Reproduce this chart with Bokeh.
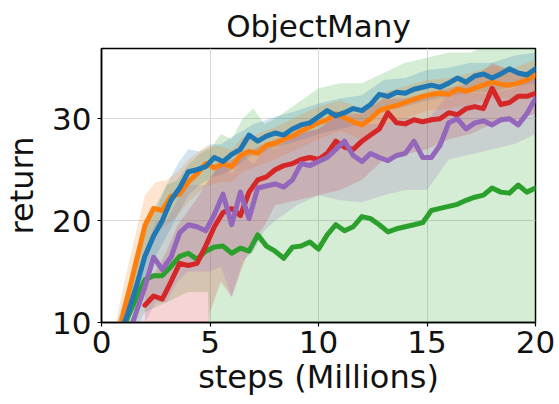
from bokeh.plotting import figure
from bokeh.models import Range1d, FixedTicker
from bokeh.embed import file_html
from bokeh.resources import INLINE

nan = float("nan")

# ---- data (steps in millions) ----
steps = [0.8, 1.2, 1.6, 2.0, 2.4, 2.8, 3.2, 3.6, 4.0, 4.4, 4.8, 5.2, 5.6, 6.0, 6.4, 6.8,
         7.2, 7.6, 8.0, 8.4, 8.8, 9.2, 9.6, 10.0, 10.4, 10.8, 11.2, 11.6, 12.0, 12.4, 12.8,
         13.2, 13.6, 14.0, 14.4, 14.8, 15.2, 15.6, 16.0, 16.4, 16.8, 17.2, 17.6, 18.0, 18.4,
         18.8, 19.2, 19.6, 20.0]

blue_ret = [8.5, 10.8, 13.5, 16.5, 18.5, 20.0, 22.0, 23.2, 24.8, 25.0, 25.3, 26.2, 25.8, 26.5,
            27.0, 28.4, 27.8, 28.3, 28.6, 28.4, 29.0, 29.4, 29.6, 30.2, 30.8, 30.3, 30.6, 31.0,
            30.8, 31.4, 32.4, 32.2, 32.6, 32.5, 32.9, 33.1, 33.3, 33.1, 33.5, 34.0, 33.6, 34.2,
            34.4, 34.0, 34.4, 34.9, 34.5, 34.3, 34.9]

orange_ret = [9.0, 12.5, 16.0, 19.5, 21.2, 21.0, 22.4, 22.6, 23.8, 24.6, 25.6, 25.2, 25.6, 25.3,
              26.4, 26.8, 26.6, 27.4, 27.6, 28.0, 28.3, 28.8, 29.2, 29.6, 29.9, 30.5, 30.1, 29.7,
              29.4, 30.0, 30.8, 31.1, 31.3, 31.6, 31.9, 32.2, 32.4, 32.5, 32.4, 32.9, 32.7, 33.0,
              33.3, 33.6, 33.4, 33.3, 33.5, 33.8, 34.3]

red_ret = [nan, nan, nan, 11.7, 12.6, 12.3, 14.0, 15.8, 15.6, 15.8, 17.5, 19.4, 20.8, 21.2,
           20.5, 22.8, 24.0, 24.3, 25.0, 25.4, 25.6, 26.0, 26.2, 26.0, 26.6, 27.8, 27.2, 27.0,
           27.8, 28.4, 29.0, 30.6, 29.6, 29.5, 29.9, 29.7, 29.9, 30.0, 30.6, 30.4, 31.0, 31.2,
           31.0, 33.0, 31.4, 31.6, 32.2, 32.2, 32.5]

purple_ret = [nan, 8.5, 11.0, 13.5, 16.4, 15.2, 16.4, 18.8, 19.6, 19.4, 19.0, 20.6, 22.6, 19.6,
              22.8, 20.2, 23.2, 23.4, 23.6, 23.3, 24.0, 25.6, 25.4, 25.8, 26.2, 27.0, 27.8, 26.4,
              25.8, 26.6, 26.2, 25.9, 26.4, 26.6, 27.8, 26.2, 26.2, 27.4, 29.6, 30.0, 29.0, 29.6,
              29.8, 29.4, 29.9, 30.0, 29.4, 30.5, 32.0]

green_ret = [8.0, 10.5, 12.4, 14.2, 14.6, 14.6, 15.5, 16.5, 16.8, 16.2, 17.0, 17.4, 17.5, 16.8,
             17.3, 17.0, 18.6, 17.5, 17.0, 16.3, 17.4, 17.5, 17.9, 17.2, 18.6, 19.6, 19.0, 19.4,
             20.4, 20.2, 19.6, 18.9, 19.2, 19.4, 19.6, 19.8, 21.0, 21.2, 21.4, 21.6, 22.0, 22.3,
             22.5, 23.2, 22.8, 22.7, 23.5, 22.8, 23.2]

# ---- shaded spread (lower / upper) ----
band_steps = [0.6, 1.0, 1.5, 2.0, 2.5, 3.0, 3.5, 4.0, 4.5, 4.9, 5.0, 5.5, 6.0, 6.5, 7.0, 7.5,
              8.0, 9.0, 10.0, 11.0, 12.0, 13.0, 14.0, 15.0, 16.0, 17.0, 18.0, 19.0, 20.0]

blue_lo = [7, 7, 10, 13.5, 16.5, 18.5, 20.5, 22.5, 23.5, 24, 24.2, 24.5, 25, 25.8, 26.5, 26.8,
           27.2, 27.8, 28.5, 29, 29.5, 30.8, 31.2, 31.8, 32.2, 32.6, 32.6, 33.2, 33.5]
blue_hi = [9, 12, 15.5, 19.5, 21.5, 23.5, 25.5, 27, 26.8, 27.2, 27.5, 27.5, 28.2, 28.8, 29.5,
           29.8, 30.2, 30.8, 31.5, 32, 32.3, 33.8, 34, 34.8, 35, 35.5, 35.5, 36.2, 36.5]

orange_lo = [5, 8, 12, 16.5, 18.8, 19.5, 20.5, 21.8, 22.8, 23.5, 23.5, 23.8, 23.8, 24.8, 25.2,
             25.6, 26, 27, 28, 28.8, 28, 29.4, 30, 30.8, 31, 31.4, 32, 32, 32.8]
orange_hi = [9.5, 13.5, 18, 22.5, 23.8, 24, 24.8, 26, 26.8, 27.4, 27.3, 27.3, 27, 28.2, 28.3,
             28.8, 29.2, 30.2, 31.2, 31.8, 31, 32.6, 33.2, 33.8, 34, 34.5, 35.2, 35, 35.8]

red_band_steps = [2.0, 2.5, 3.0, 3.5, 4.0, 4.5, 4.9, 5.0, 5.5, 6.0, 6.5, 7.0, 7.5, 8.0, 9.0,
                  10.0, 11.0, 12.0, 13.0, 14.0, 15.0, 16.0, 17.0, 18.0, 19.0, 20.0]
red_lo = [10, 9.5, 8, 7, 7, 8, 9, 11, 14, 12.5, 15.5, 18, 19.5, 21.5, 22, 22.5, 23, 24, 26,
          26.5, 27, 28, 28.5, 29.5, 29.8, 30.5]
red_hi = [13.5, 15, 17, 19.5, 21, 22.5, 24, 24.2, 25.5, 26, 26.5, 27, 27.5, 28, 28.5, 29,
          30.5, 30.5, 32, 32, 32.5, 33, 33.5, 35.5, 34.5, 34.8]

purple_band_steps = [1.5, 2.0, 2.5, 3.0, 3.5, 4.0, 4.5, 4.9, 5.0, 5.5, 6.0, 6.5, 7.0, 7.5, 8.0,
                     9.0, 10.0, 11.0, 12.0, 13.0, 14.0, 15.0, 16.0, 17.0, 18.0, 19.0, 20.0]
purple_lo = [8, 10, 12, 12, 14, 15, 15, 15, 15, 15.5, 12.5, 16, 17, 19, 20, 21.5, 22.5, 22,
             21.8, 22.5, 23, 23, 26, 26.5, 27, 27.5, 28.5]
purple_hi = [13, 17, 20, 20, 22, 23.5, 23.5, 23.5, 24, 26, 24.5, 26.5, 25.5, 27, 27, 28.5, 29,
             30.5, 29.5, 29.5, 30, 29.8, 32.5, 32.5, 32.5, 33, 35]

green_lo = [5, 7, 9, 11, 11.5, 12, 12.5, 13, 13, 13, 5, 5, 5, 5, 5, 5, 5, 5, 5, 5, 5, 5, 5,
            5, 5, 5, 5, 5, 5]
green_hi = [9, 12, 15.5, 19, 21, 23.5, 24, 25.5, 26.5, 27, 27, 28.5, 28, 30, 31, 29.5, 30,
            31.5, 33, 33.5, 33.5, 34.5, 35.5, 36, 36.5, 36.5, 37.5, 37.5, 37.5]

x_ticks = [0, 5, 10, 15, 20]
y_ticks = [10, 20, 30]

C_BLUE, C_ORANGE, C_GREEN, C_RED, C_PURPLE = "#1f77b4", "#ff7f0e", "#2ca02c", "#d62728", "#9467bd"

p = figure(width=559, height=404, output_backend="svg", toolbar_location=None,
           x_range=Range1d(0, 20), y_range=Range1d(10, 36.9), title="ObjectMany",
           min_border_left=100, min_border_right=24, min_border_top=45, min_border_bottom=82)

FONT = "DejaVu Sans"
p.title.text_font = FONT
p.title.text_font_size = "31px"
p.title.text_font_style = "normal"
p.title.text_color = "#111111"
p.title.align = "center"

for band_x, lo, hi, col in [(band_steps, green_lo, green_hi, C_GREEN),
                            (band_steps, blue_lo, blue_hi, C_BLUE),
                            (band_steps, orange_lo, orange_hi, C_ORANGE),
                            (red_band_steps, red_lo, red_hi, C_RED),
                            (purple_band_steps, purple_lo, purple_hi, C_PURPLE)]:
    p.varea(x=band_x, y1=lo, y2=hi, fill_color=col, fill_alpha=0.2)

for ys, col in [(green_ret, C_GREEN), (red_ret, C_RED), (purple_ret, C_PURPLE),
                (orange_ret, C_ORANGE), (blue_ret, C_BLUE)]:
    p.line(steps, ys, line_color=col, line_width=5, line_join="round", line_cap="round")

p.xaxis.ticker = FixedTicker(ticks=x_ticks)
p.yaxis.ticker = FixedTicker(ticks=y_ticks)
p.xaxis.axis_label = "steps (Millions)"
p.yaxis.axis_label = "return"
for ax in (p.xaxis[0], p.yaxis[0]):
    ax.major_label_text_font = FONT
    ax.major_label_text_font_size = "31px"
    ax.major_label_text_color = "#111111"
    ax.axis_label_text_font = FONT
    ax.axis_label_text_font_size = "32px"
    ax.axis_label_text_font_style = "normal"
    ax.axis_label_text_color = "#111111"
    ax.major_tick_out = 4
    ax.major_tick_in = 0
    ax.minor_tick_out = 0
    ax.minor_tick_in = 0
    ax.axis_line_width = 1.5
    ax.major_tick_line_width = 1.2
p.xaxis.major_label_standoff = 4
p.xaxis.axis_label_standoff = 2
p.yaxis.major_label_standoff = 6
p.yaxis.axis_label_standoff = 8

p.xgrid.grid_line_color = "#d9d9d9"
p.ygrid.grid_line_color = "#d9d9d9"
p.outline_line_color = "black"
p.outline_line_width = 1.5
p.outline_line_alpha = 1.0
p.background_fill_color = "white"
p.border_fill_color = "white"

open("out.html", "w").write(file_html(p, INLINE))
